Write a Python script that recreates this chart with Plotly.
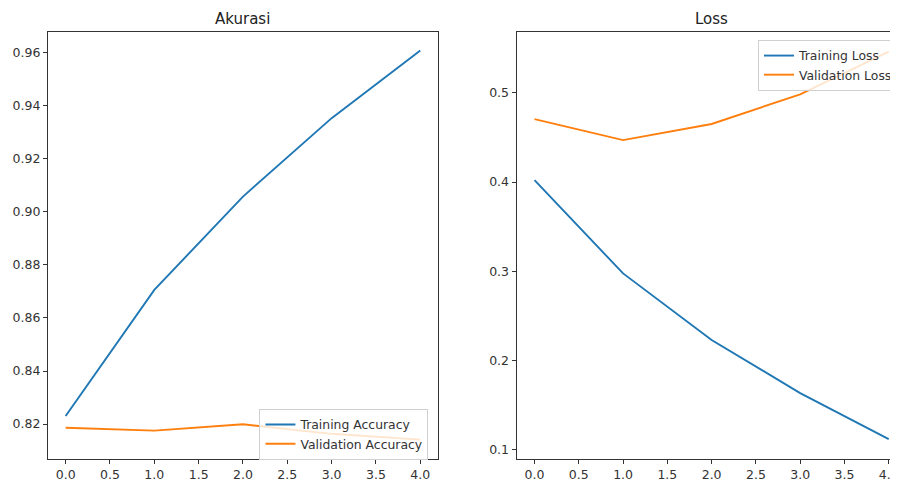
import plotly.graph_objects as go

epochs = [0, 1, 2, 3, 4]
train_acc = [0.823, 0.8706, 0.9058, 0.9354, 0.9609]
val_acc = [0.8186, 0.8175, 0.8199, 0.8163, 0.8141]
train_loss = [0.4022, 0.2977, 0.2231, 0.1637, 0.1122]
val_loss = [0.4705, 0.447, 0.465, 0.4982, 0.546]

# page has an 8px body margin; figure sized so it ends at the window edge
OFF = 8
W, H = 898 - OFF, 482 - OFF
BLUE = "#1f77b4"
ORANGE = "#ff7f0e"
FONT = "DejaVu Sans"


def px(x):
    return (x - OFF) / W


def py(y):
    return 1 - (y - OFF) / H


fig = go.Figure()
fig.add_trace(go.Scatter(x=epochs, y=train_acc, mode="lines", name="Training Accuracy",
                         line=dict(color=BLUE, width=1.9), xaxis="x", yaxis="y", legend="legend"))
fig.add_trace(go.Scatter(x=epochs, y=val_acc, mode="lines", name="Validation Accuracy",
                         line=dict(color=ORANGE, width=1.9), xaxis="x", yaxis="y", legend="legend"))
fig.add_trace(go.Scatter(x=epochs, y=train_loss, mode="lines", name="Training Loss",
                         line=dict(color=BLUE, width=1.9), xaxis="x2", yaxis="y2", legend="legend2"))
fig.add_trace(go.Scatter(x=epochs, y=val_loss, mode="lines", name="Validation Loss",
                         line=dict(color=ORANGE, width=1.9), xaxis="x2", yaxis="y2", legend="legend2"))

ydom = [py(459), py(32)]
axis_common = dict(showgrid=False, zeroline=False, showline=True, linecolor="#333",
                   linewidth=1, ticks="outside", ticklen=4, tickcolor="#333",
                   tickfont=dict(family=FONT, size=12.5, color="#333"))

fig.update_layout(
    width=W, height=H,
    margin=dict(l=0, r=0, t=0, b=0),
    paper_bgcolor="white", plot_bgcolor="white",
    font=dict(family=FONT, color="#333"),
    xaxis=dict(domain=[px(48), px(439)], range=[-0.2, 4.2], dtick=0.5, tick0=0,
               tickformat=".1f", mirror=True, anchor="y", **axis_common),
    yaxis=dict(domain=ydom, range=[0.8068, 0.9679], dtick=0.02, tick0=0.8,
               tickformat=".2f", mirror=True, anchor="x", **axis_common),
    xaxis2=dict(domain=[px(517.7), 1.0], range=[-0.203, 4.0 + (898 - 890.7) / 88.75],
                dtick=0.5, tick0=0, tickformat=".1f", mirror=True, anchor="y2",
                ticklabeloverflow="allow", **axis_common),
    yaxis2=dict(domain=ydom, range=[0.0899, 0.568], dtick=0.1, tick0=0,
                tickformat=".1f", mirror=False, anchor="x2", **axis_common),
    legend=dict(x=px(260), y=py(409), xanchor="left", yanchor="top",
                bgcolor="rgba(255,255,255,0.8)", bordercolor="#d0d0d0", borderwidth=1,
                font=dict(family=FONT, size=12.4, color="#333"), tracegroupgap=0,
                itemwidth=30),
    legend2=dict(x=px(760), y=py(40), xanchor="left", yanchor="top",
                 bgcolor="rgba(255,255,255,0.8)", bordercolor="#d0d0d0", borderwidth=1,
                 font=dict(family=FONT, size=12.4, color="#333"), tracegroupgap=0,
                 itemwidth=30),
    annotations=[
        dict(text="Akurasi", x=px((48 + 439) / 2), y=py(19), xref="paper", yref="paper",
             showarrow=False, font=dict(family=FONT, size=15, color="#222"),
             xanchor="center", yanchor="middle"),
        dict(text="Loss", x=px(713), y=py(19), xref="paper", yref="paper",
             showarrow=False, font=dict(family=FONT, size=15, color="#222"),
             xanchor="center", yanchor="middle"),
    ],
)

fig.write_html("out.html")
